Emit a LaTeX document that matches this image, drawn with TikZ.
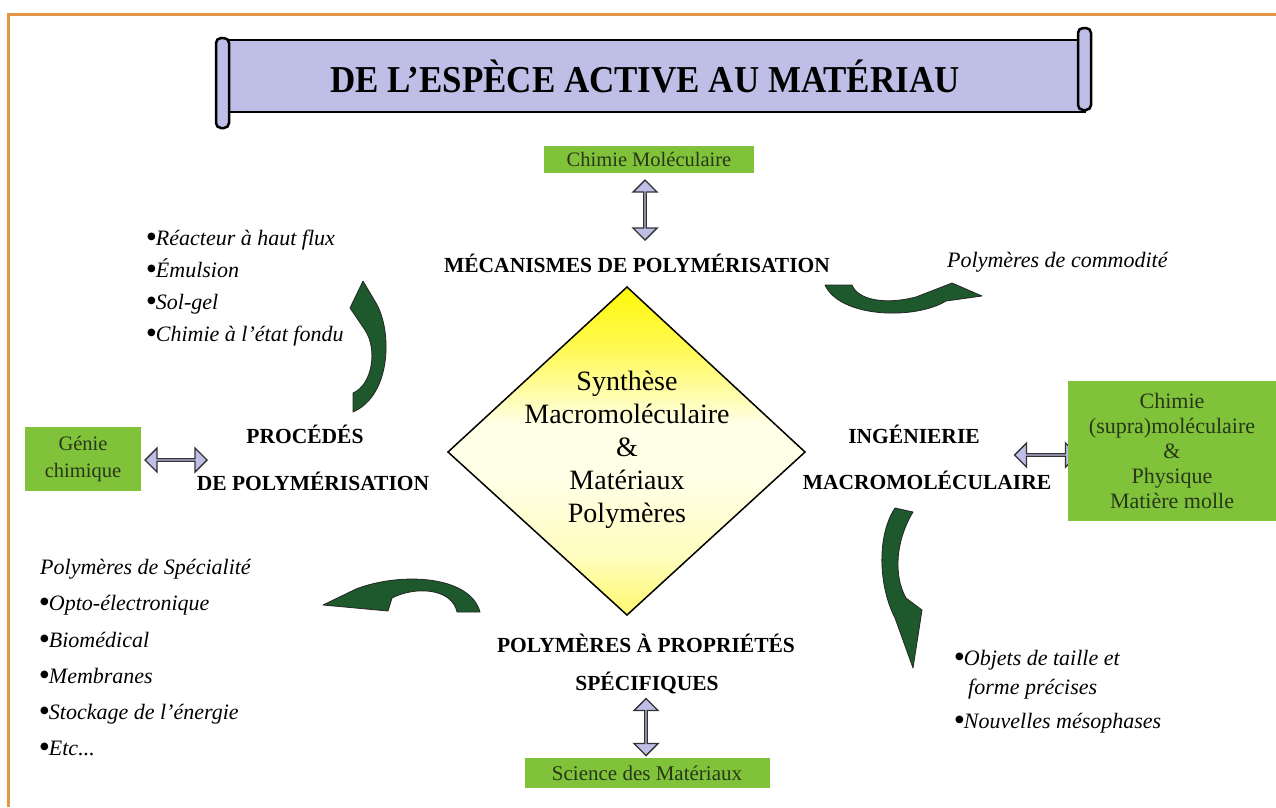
\documentclass[tikz,border=0pt]{standalone}
\usepackage{fontspec}
\setmainfont{Liberation Serif}
\newfontfamily\symf{DejaVu Sans}
\usetikzlibrary{shapes.arrows,calc}
\definecolor{lav}{RGB}{190,190,230}
\definecolor{boxgreen}{RGB}{128,194,58}
\definecolor{boxtext}{RGB}{40,55,25}
\definecolor{arrowgreen}{RGB}{30,88,45}
\definecolor{frameorange}{RGB}{226,150,70}
\definecolor{dtop}{RGB}{255,247,10}
\definecolor{dtopb}{RGB}{255,250,90}
\definecolor{dmid}{RGB}{255,255,232}
\definecolor{dbotb}{RGB}{255,253,190}
\definecolor{dbot}{RGB}{255,249,110}
\pgfdeclareverticalshading{diashade}{100bp}{color(0bp)=(dbot); color(25bp)=(dbot); color(34bp)=(dbotb); color(46bp)=(dmid); color(54bp)=(dmid); color(65bp)=(dtopb); color(75bp)=(dtop); color(100bp)=(dtop)}
\newcommand\bul{\raisebox{.55ex}{\fontsize{10}{10}\selectfont\symf ●}}
\tikzset{
  boldlbl/.style={font=\fontsize{21.5}{24}\selectfont\bfseries, inner sep=0pt},
  itl/.style={font=\fontsize{22}{26}\selectfont\itshape, anchor=base west, inner sep=0pt},
  greenbox/.style={fill=boxgreen, draw=none, text=boxtext, font=\fontsize{20.5}{27}\selectfont, align=center, inner sep=0pt},
  dbl/.style={double arrow, draw=black!80, fill=lav, line width=1.4pt, minimum width=24pt, double arrow head extend=6pt, inner sep=0pt},
  swoosh/.style={fill=arrowgreen, draw=black!85, line width=0.8pt, line join=round},
  scroll/.style={draw=black, line width=2.5pt, fill=lav}
}
\begin{document}
\begin{tikzpicture}[x=1pt,y=-1pt]
\useasboundingbox (0,0) rectangle (1276,807);
\fill[white] (0,0) rectangle (1276,807);
\draw[frameorange, line width=3pt] (8,807) -- (8,14) -- (1276,14);

% scroll banner
\draw[scroll] (226,40) rectangle (1085,112);
\draw[scroll, rounded corners=5pt] (1078,28) rectangle (1091,110);
\draw[scroll, rounded corners=5pt] (216,38) rectangle (229,128);
\node[font=\fontsize{38}{40}\selectfont\bfseries, xscale=.92] (title) at (645,76) {DE L’ESPÈCE ACTIVE AU MATÉRIAU};

% central diamond
\coordinate (dt) at (627,287);
\coordinate (dl) at (448,452);
\coordinate (dr) at (805,452);
\coordinate (db) at (627,615);
\shade[shading=diashade] (dt) -- (dr) -- (db) -- (dl) -- cycle;
\draw[line width=1.5pt] (dt) -- (dr) -- (db) -- (dl) -- cycle;
\node[font=\fontsize{28}{33}\selectfont, align=center] (core) at (627,450) {Synthèse\\Macromoléculaire\\\&\\Matériaux\\Polymères};

% top
\node[greenbox, minimum width=210pt, minimum height=27pt] (chimmol) at (649,159) {Chimie Moléculaire};
\node[dbl, rotate=90, minimum height=60pt] (a1) at (645,210) {};
\node[boldlbl] (meca) at (637,263) {MÉCANISMES DE POLYMÉRISATION};
\node[itl] (commod) at (947,267) {Polymères de commodité};

% left
\node[itl] (l1) at (147,245) {\bul Réacteur à haut flux};
\node[itl] (l2) at (147,277) {\bul Émulsion};
\node[itl] (l3) at (147,309) {\bul Sol-gel};
\node[itl] (l4) at (147,341) {\bul Chimie à l’état fondu};
\node[boldlbl] (proc1) at (305,434) {PROCÉDÉS};
\node[boldlbl] (proc2) at (313,481) {DE POLYMÉRISATION};
\node[greenbox, minimum width=116pt, minimum height=64pt] (genie) at (83,459) {Génie\\chimique};
\node[dbl, minimum height=62pt] (a2) at (176,460) {};

% right
\node[boldlbl] (ing1) at (914,434) {INGÉNIERIE};
\node[boldlbl] (ing2) at (927,480) {MACROMOLÉCULAIRE};
\node[dbl, minimum height=63pt] (a3) at (1046,455) {};
\node[greenbox, minimum width=208pt, minimum height=140pt, font=\fontsize{22}{25}\selectfont] (supra) at (1172,451) {Chimie\\(supra)moléculaire\\\&\\Physique\\Matière molle};

% bottom
\node[boldlbl] (spec1) at (646,643) {POLYMÈRES À PROPRIÉTÉS};
\node[boldlbl] (spec2) at (647,683) {SPÉCIFIQUES};
\node[dbl, rotate=90, minimum height=57pt] (a4) at (646,727) {};
\node[greenbox, minimum width=245pt, minimum height=30pt, font=\fontsize{21}{27}\selectfont] (sci) at (647,773) {Science des Matériaux};

% bottom-left list
\node[itl] (s0) at (40,574) {Polymères de Spécialité};
\node[itl] (s1) at (40,610) {\bul Opto-électronique};
\node[itl] (s2) at (40,647) {\bul Biomédical};
\node[itl] (s3) at (40,683) {\bul Membranes};
\node[itl] (s4) at (40,719) {\bul Stockage de l’énergie};
\node[itl] (s5) at (40,755) {\bul Etc...};

% bottom-right list
\node[itl] (r1) at (955,665) {\bul Objets de taille et};
\node[itl] (r2) at (968,694) {forme précises};
\node[itl] (r3) at (955,728) {\bul Nouvelles mésophases};

% curved arrows
\draw[swoosh] (825,285) -- (852,285) .. controls (858,300) and (885,305) .. (916,297)
  -- (952,283) -- (982,296) -- (946,301) .. controls (915,320) and (840,318) .. (825,285) -- cycle;
\draw[swoosh] (353,393) .. controls (372,385) and (378,350) .. (365,330) -- (350,308) -- (363,281)
  -- (376,303) .. controls (392,330) and (392,395) .. (353,412) -- cycle;
\draw[swoosh] (457,612) .. controls (452,588) and (415,586) .. (392,598) -- (388,611) -- (323,605)
  -- (356,589) .. controls (400,572) and (470,575) .. (480,612) -- cycle;
\draw[swoosh] (913,512) .. controls (896,540) and (893,575) .. (906,598) -- (922,610) -- (913,668)
  -- (895,618) .. controls (878,585) and (877,535) .. (895,508) -- cycle;
\end{tikzpicture}
\end{document}
